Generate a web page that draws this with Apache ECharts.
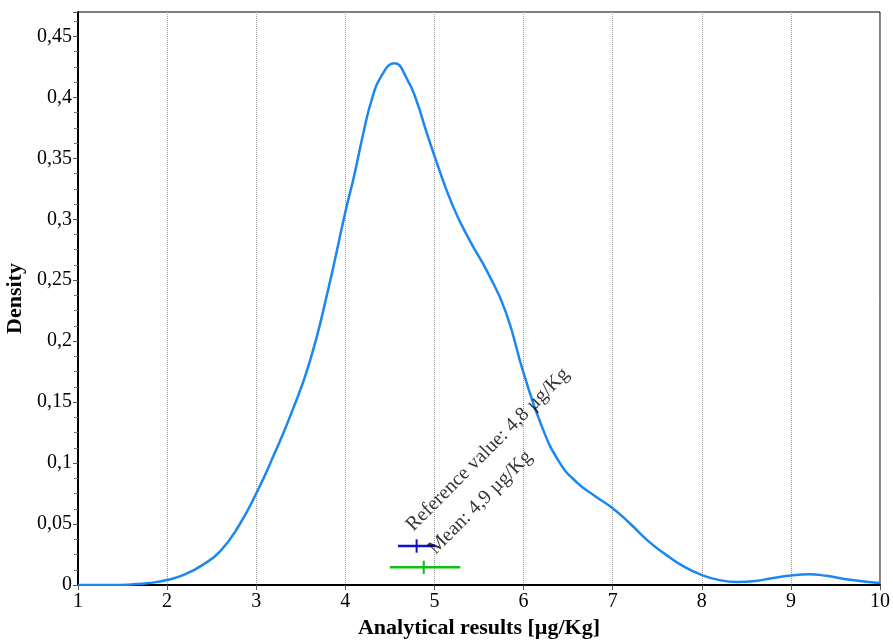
<!DOCTYPE html>
<html>
<head>
<meta charset="utf-8">
<script src="https://cdn.jsdelivr.net/npm/echarts@6/dist/echarts.min.js"></script>
<style>
  html, body { margin: 0; padding: 0; background: #fff; }
  #chart { width: 893px; height: 642px; }
</style>
</head>
<body>
<div id="chart"></div>
<script>
// density curve (finer steps around the peak)
var resultX = [1, 1.2, 1.4, 1.6, 1.8, 2, 2.2, 2.4, 2.6, 2.8, 3, 3.2, 3.4, 3.6, 3.8, 4, 4.1, 4.2, 4.3, 4.4, 4.55, 4.7, 4.8, 4.9, 5, 5.2, 5.4, 5.6, 5.8, 6, 6.2, 6.4, 6.6, 6.8, 7, 7.2, 7.4, 7.6, 7.8, 8, 8.2, 8.4, 8.6, 8.8, 9, 9.2, 9.4, 9.6, 9.8, 10];
var densityY = [0, 0, 0, 0.0005, 0.0016, 0.0041, 0.0087, 0.0165, 0.028, 0.048, 0.075, 0.107, 0.142, 0.183, 0.24, 0.306, 0.336, 0.37, 0.399, 0.417, 0.428, 0.414, 0.397, 0.374, 0.352, 0.312, 0.282, 0.256, 0.224, 0.174, 0.131, 0.101, 0.084, 0.073, 0.063, 0.05, 0.036, 0.0247, 0.015, 0.0082, 0.004, 0.0025, 0.0033, 0.0058, 0.0078, 0.0088, 0.0075, 0.005, 0.003, 0.0016];

// reference value and mean markers: [low, centre, high], drawn at a density level
var refValue = [4.59, 4.8, 5.01];
var refLevel = 0.032;
var meanValue = [4.5, 4.88, 5.29];
var meanLevel = 0.0145;
var tickHalf = 0.0055;

var refLabel = "Reference value: 4,8 \u00b5g/Kg";
var meanLabel = "Mean: 4,9 \u00b5g/Kg";

var serif = "Liberation Serif";

function comma(v) {
  var r = Math.round(v * 1000) / 1000;
  return String(r).replace(".", ",");
}

function pairs(xs, ys) {
  var out = [];
  for (var i = 0; i < xs.length; i++) out.push([xs[i], ys[i]]);
  return out;
}

function markerSeries(vals, level, color, label, offset) {
  return [
    {
      type: "line",
      data: [[vals[0], level], [vals[2], level]],
      showSymbol: false,
      lineStyle: { color: color, width: 2.5 },
      silent: true,
      z: 4
    },
    {
      type: "line",
      data: [[vals[1], level - tickHalf], [vals[1], level + tickHalf]],
      showSymbol: false,
      lineStyle: { color: color, width: 2 },
      silent: true,
      z: 4
    },
    {
      type: "scatter",
      data: [[vals[1], level]],
      symbolSize: 0,
      silent: true,
      z: 5,
      label: {
        show: true,
        formatter: label,
        position: offset,
        rotate: 45,
        align: "left",
        verticalAlign: "bottom",
        fontFamily: serif,
        fontSize: 20,
        color: "#000"
      }
    }
  ];
}

var chart = echarts.init(document.getElementById("chart"));

var option = {
  animation: false,
  backgroundColor: "#fff",
  grid: {
    left: 78,
    right: 13,
    top: 12,
    bottom: 57,
    containLabel: false,
    outerBoundsMode: "none",
    show: true,
    borderColor: "#000",
    borderWidth: 1
  },
  xAxis: {
    type: "value",
    min: 1,
    max: 10,
    interval: 1,
    name: "Analytical results [\u00b5g/Kg]",
    nameLocation: "middle",
    nameGap: 31,
    nameTextStyle: { fontFamily: serif, fontSize: 22, fontWeight: "bold", color: "#000" },
    axisLine: { onZero: false, lineStyle: { color: "#000", width: 2 } },
    axisTick: { show: true, length: 5, lineStyle: { color: "#555" } },
    axisLabel: { fontFamily: serif, fontSize: 20, color: "#000", margin: 7 },
    splitLine: { show: true, lineStyle: { color: "#999", type: "dotted", width: 1 } }
  },
  yAxis: {
    type: "value",
    min: 0,
    max: 0.47,
    interval: 0.05,
    name: "Density",
    nameLocation: "middle",
    nameGap: 48,
    nameTextStyle: { fontFamily: serif, fontSize: 22, fontWeight: "bold", color: "#000" },
    axisLine: { show: true, lineStyle: { color: "#000", width: 2 } },
    axisTick: { show: true, length: 5, lineStyle: { color: "#555" } },
    minorTick: { show: true, splitNumber: 4, length: 4, lineStyle: { color: "#777" } },
    axisLabel: {
      fontFamily: serif,
      fontSize: 20,
      color: "#000",
      margin: 6,
      formatter: function (v) {
        var k = Math.round(v / 0.05);
        if (Math.abs(k * 0.05 - v) > 1e-6) return "";
        return comma(v);
      }
    },
    splitLine: { show: false }
  },
  series: [
    {
      type: "line",
      data: pairs(resultX, densityY),
      smooth: 0.5,
      showSymbol: false,
      lineStyle: { color: "#1a88f0", width: 2.5 },
      z: 3
    }
  ]
    .concat(markerSeries(refValue, refLevel, "#1010d0", refLabel, [0, -11]))
    .concat(markerSeries(meanValue, meanLevel, "#10c010", meanLabel, [15, -9]))
};

chart.setOption(option);
</script>
</body>
</html>
